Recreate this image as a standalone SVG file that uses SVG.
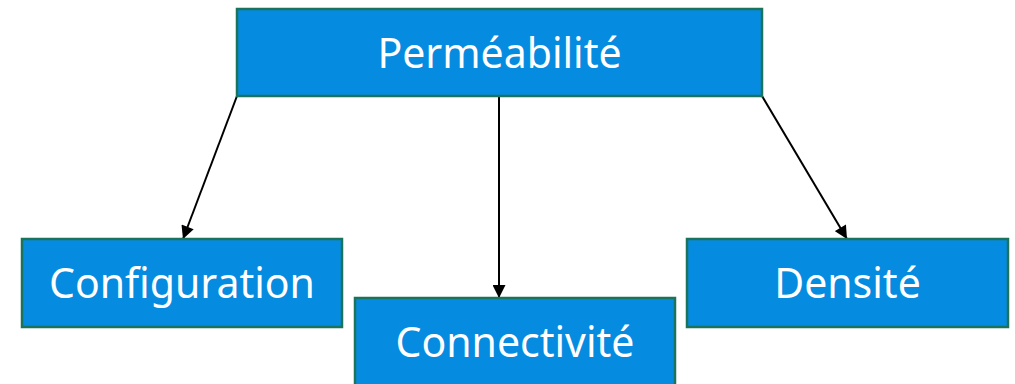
<svg xmlns="http://www.w3.org/2000/svg" width="1015" height="384" viewBox="0 0 1015 384">
<defs>
<style>
.box{fill:#058CE0;stroke:#1B735C;stroke-width:2.5}
.lbl{font-family:"Noto Sans","Open Sans",sans-serif;font-size:41px;fill:#FFFFFF;text-anchor:middle}
.edge{stroke:#000;stroke-width:2;fill:none;marker-end:url(#ah)}
</style>
<marker id="ah" viewBox="0 0 10 10" refX="10" refY="5" markerWidth="7" markerHeight="6.5" markerUnits="strokeWidth" orient="auto">
<path d="M0,0 L10,5 L0,10 Z" fill="#000"/>
</marker>
</defs>
<rect width="1015" height="384" fill="#FFFFFF"/>
<g id="edges">
<line class="edge" x1="237" y1="96" x2="183" y2="239"/>
<line class="edge" x1="499" y1="96" x2="499" y2="298"/>
<line class="edge" x1="762" y1="96" x2="847" y2="239"/>
</g>
<g id="permeabilite">
<rect class="box" x="237" y="9" width="525" height="87"/>
<text class="lbl" x="499.5" y="68">Perméabilité</text>
</g>
<g id="configuration">
<rect class="box" x="22" y="239" width="320" height="88"/>
<text class="lbl" x="182" y="298">Configuration</text>
</g>
<g id="connectivite">
<rect class="box" x="355" y="298" width="320" height="88"/>
<text class="lbl" x="515" y="357">Connectivité</text>
</g>
<g id="densite">
<rect class="box" x="687" y="239" width="321" height="88"/>
<text class="lbl" x="847.5" y="298">Densité</text>
</g>
</svg>
